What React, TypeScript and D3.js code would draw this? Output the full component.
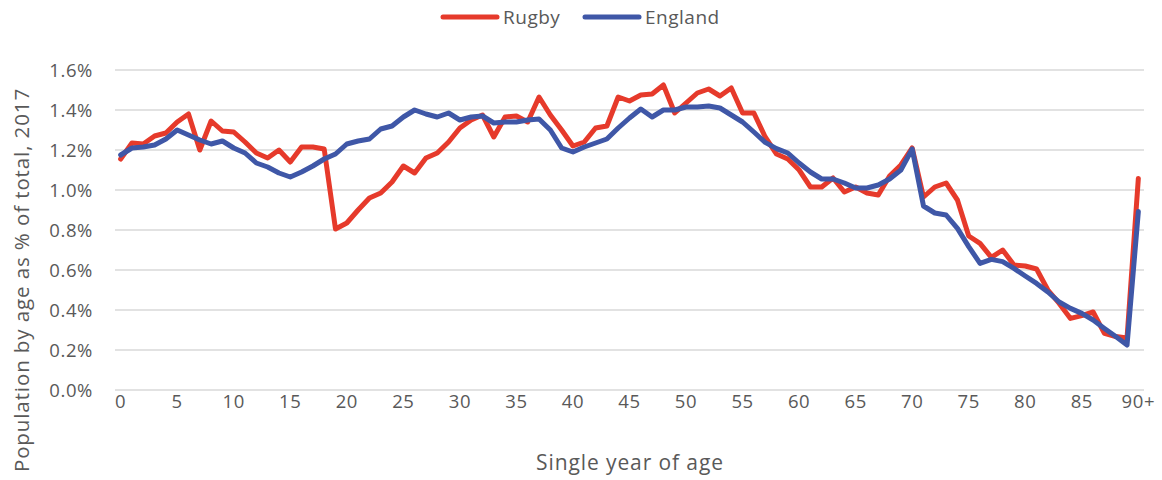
import React from "react";
import * as d3 from "d3";

// Single year of age, 0..89 plus "90+"
const ages: string[] = [...Array.from({ length: 90 }, (_, i) => String(i)), "90+"];

// Share of total population by single year of age, 2017 (%)
const rugby: number[] = [
  1.155, 1.235, 1.23, 1.27, 1.285, 1.34, 1.38, 1.2, 1.345, 1.295,
  1.29, 1.24, 1.185, 1.16, 1.2, 1.14, 1.215, 1.215, 1.205, 0.805,
  0.835, 0.9, 0.96, 0.985, 1.04, 1.12, 1.085, 1.16, 1.185, 1.24,
  1.31, 1.35, 1.375, 1.265, 1.365, 1.37, 1.34, 1.465, 1.375, 1.3,
  1.22, 1.24, 1.31, 1.32, 1.465, 1.445, 1.475, 1.48, 1.525, 1.385,
  1.435, 1.485, 1.505, 1.47, 1.51, 1.385, 1.385, 1.265, 1.18, 1.155,
  1.1, 1.015, 1.015, 1.06, 0.99, 1.015, 0.985, 0.975, 1.07, 1.125,
  1.21, 0.965, 1.015, 1.035, 0.95, 0.77, 0.733, 0.663, 0.7, 0.625,
  0.62, 0.605, 0.5, 0.433, 0.358, 0.372, 0.39, 0.283, 0.267, 0.26,
  1.058,
];

const england: number[] = [
  1.175, 1.21, 1.215, 1.225, 1.255, 1.3, 1.275, 1.25, 1.23, 1.245,
  1.21, 1.185, 1.135, 1.115, 1.085, 1.065, 1.09, 1.12, 1.155, 1.18,
  1.23, 1.245, 1.255, 1.305, 1.32, 1.365, 1.4, 1.38, 1.365, 1.385,
  1.35, 1.365, 1.37, 1.335, 1.34, 1.34, 1.35, 1.355, 1.3, 1.21,
  1.19, 1.215, 1.235, 1.255, 1.31, 1.36, 1.405, 1.365, 1.4, 1.4,
  1.415, 1.415, 1.42, 1.41, 1.375, 1.34, 1.29, 1.238, 1.207, 1.185,
  1.135, 1.09, 1.055, 1.055, 1.035, 1.01, 1.01, 1.025, 1.055, 1.1,
  1.205, 0.92, 0.885, 0.875, 0.808, 0.717, 0.633, 0.653, 0.642, 0.608,
  0.57, 0.533, 0.49, 0.44, 0.408, 0.383, 0.35, 0.308, 0.267, 0.225,
  0.892,
];

const yTicks: number[] = [0, 0.2, 0.4, 0.6, 0.8, 1.0, 1.2, 1.4, 1.6];
const xTickLabels: string[] = ["0", "5", "10", "15", "20", "25", "30", "35", "40", "45", "50", "55", "60", "65", "70", "75", "80", "85", "90+"];

const series = [
  { name: "Rugby", values: rugby, color: "#E63A2B" },
  { name: "England", values: england, color: "#3F57A7" },
];

const W = 1162;
const H = 480;
const plot = { left: 115, right: 1144, top: 70, bottom: 390 };
const FONT = "'Open Sans', sans-serif";
const TEXT = "#595959";

export default function App() {
  const x = d3.scalePoint<string>().domain(ages).range([plot.left, plot.right]).padding(0.5);
  const y = d3.scaleLinear().domain([0, 1.6]).range([plot.bottom, plot.top]);

  const line = d3
    .line<number>()
    .x((_, i) => x(ages[i]) as number)
    .y((v) => y(v));

  const legend = [
    { name: "Rugby", color: series[0].color, x0: 443 },
    { name: "England", color: series[1].color, x0: 585 },
  ];

  return (
    <svg
      width={W}
      height={H}
      style={{ position: "absolute", left: 0, top: 0, background: "#fff" }}
      fontFamily={FONT}
    >
      {/* gridlines */}
      {yTicks.map((t) => (
        <line key={t} x1={plot.left} x2={plot.right} y1={y(t)} y2={y(t)} stroke="#D9D9D9" strokeWidth={1.5} />
      ))}

      {/* y tick labels */}
      {yTicks.map((t) => (
        <text key={t} x={93} y={y(t)} dy="0.36em" textAnchor="end" fontSize={18.5} letterSpacing={0.6} fill={TEXT}>
          {t.toFixed(1)}%
        </text>
      ))}

      {/* x tick labels */}
      {xTickLabels.map((l) => (
        <text key={l} x={x(l) as number} y={408} textAnchor="middle" fontSize={18.5} letterSpacing={0.6} fill={TEXT}>
          {l}
        </text>
      ))}

      {/* series lines */}
      {series.map((s) => (
        <path
          key={s.name}
          d={line(s.values) ?? ""}
          fill="none"
          stroke={s.color}
          strokeWidth={5}
          strokeLinejoin="round"
          strokeLinecap="round"
        />
      ))}

      {/* legend */}
      {legend.map((l) => (
        <g key={l.name}>
          <line x1={l.x0} x2={l.x0 + 54} y1={17} y2={17} stroke={l.color} strokeWidth={5} strokeLinecap="round" />
          <text x={l.x0 + 60} y={17} dy="0.36em" fontSize={19} letterSpacing={0.5} fill={TEXT}>
            {l.name}
          </text>
        </g>
      ))}

      {/* axis titles */}
      <text x={630} y={470} textAnchor="middle" fontSize={21} letterSpacing={0.9} fill={TEXT}>
        Single year of age
      </text>
      <text
        transform={`translate(29,280) rotate(-90)`}
        textAnchor="middle"
        fontSize={20.5}
        letterSpacing={0.9}
        fill={TEXT}
      >
        Population by age as % of total, 2017
      </text>
    </svg>
  );
}
